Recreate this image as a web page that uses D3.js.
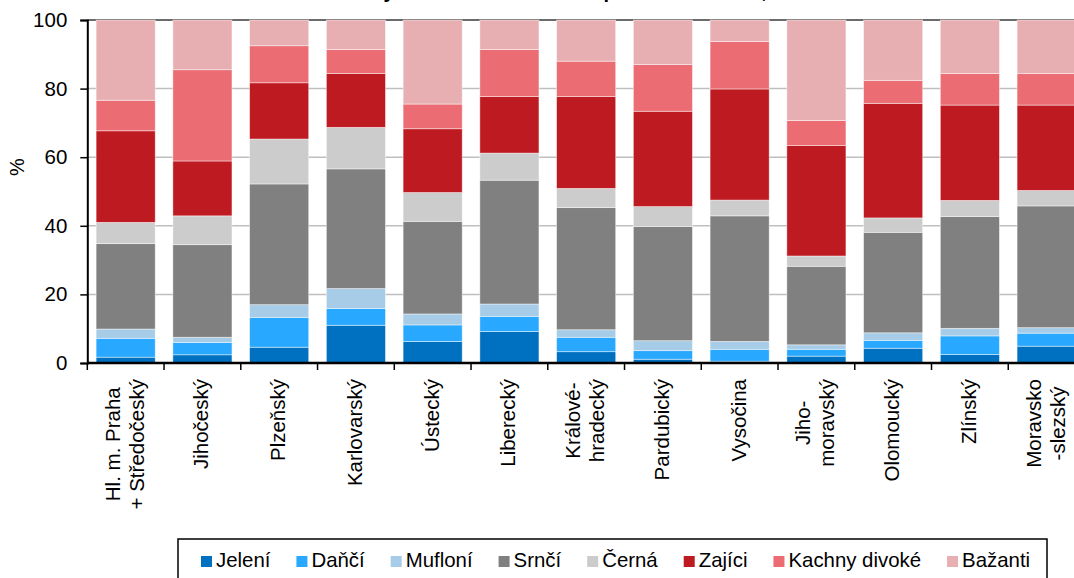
<!DOCTYPE html>
<html>
<head>
<meta charset="utf-8">
<script src="https://cdn.jsdelivr.net/npm/d3@7"></script>
<style>
  body { margin: 0; background: #fff; }
  svg { display: block; font-family: "Liberation Sans", Arial, sans-serif; }
</style>
</head>
<body>
<div class="forSvg"></div>
<script>
// chart data (shares in %, each bar sums to 100)
const categories = ["Hl. m. Praha\n+ Středočeský", "Jihočeský", "Plzeňský", "Karlovarský", "Ústecký", "Liberecký",
  "Králové-\nhradecký", "Pardubický", "Vysočina", "Jiho-\nmoravský", "Olomoucký", "Zlínský", "Moravsko\n-slezský"];
const seriesNames = ["Jelení", "Daňčí", "Mufloní", "Srnčí", "Černá", "Zajíci", "Kachny divoké", "Bažanti"];
const jeleni  = [1.7, 2.4, 4.6, 11.0, 6.3, 9.2, 3.3, 1.1, 0.5, 2.0, 4.3, 2.5, 4.9];
const danci   = [5.5, 3.6, 8.7, 4.9, 4.8, 4.4, 4.2, 2.5, 3.5, 2.0, 2.3, 5.4, 3.8];
const mufloni = [2.7, 1.5, 3.7, 5.8, 3.2, 3.6, 2.2, 2.9, 2.3, 1.3, 2.2, 2.2, 1.6];
const srnci   = [24.9, 27.0, 35.2, 34.9, 27.0, 36.1, 35.6, 33.3, 36.6, 22.9, 29.3, 32.6, 35.5];
const cerna   = [6.2, 8.4, 13.1, 12.1, 8.4, 7.9, 5.6, 5.8, 4.6, 3.0, 4.2, 4.7, 4.5];
const zajici  = [26.7, 16.0, 16.4, 15.7, 18.6, 16.5, 26.8, 27.8, 32.4, 32.2, 33.4, 27.8, 24.9];
const kachny  = [8.9, 26.6, 10.8, 7.0, 7.2, 13.7, 10.3, 13.6, 13.8, 7.3, 6.7, 9.2, 9.2];
const bazanti = [23.4, 14.5, 7.5, 8.6, 24.5, 8.6, 12.0, 13.0, 6.3, 29.3, 17.6, 15.6, 15.6];
const yTicks = [0, 20, 40, 60, 80, 100];

const colors = ["#0070C0", "#29A8FF", "#A6CCE8", "#808080", "#CCCCCC", "#BE1A21", "#EB6C72", "#E8AFB2"];

// w & h of svg
const svg_w = 1074;
const svg_h = 578;
// plot area (right edge runs past the window like in the original)
const plotL = 87.3, plotR = 1085, plotT = 20, plotB = 363;

// build rows for d3.stack from the arrays
const allSeries = [jeleni, danci, mufloni, srnci, cerna, zajici, kachny, bazanti];
const rows = categories.map((c, i) => {
  const r = { cat: c };
  seriesNames.forEach((s, j) => r[s] = allSeries[j][i]);
  return r;
});
const stacked = d3.stack().keys(seriesNames)(rows);

const xScale = d3.scaleBand()
  .domain(categories)
  .range([plotL, plotR])
  .paddingInner(0.23)
  .paddingOuter(0.115);

const yScale = d3.scaleLinear()
  .domain([0, 100])
  .range([plotB, plotT]);

const svg = d3.select(".forSvg")
  .append("svg")
  .attr("width", svg_w)
  .attr("height", svg_h);

// title - sits mostly above the visible area (only descenders show, as in the original)
svg.append("text")
  .attr("x", 329)
  .attr("y", -2.5)
  .attr("font-size", 20)
  .attr("font-weight", "bold")
  .text("Úlovky zvěře a drobné zvěře podle oblastí ČR, v %");

// gridlines
svg.append("g")
  .selectAll("line")
  .data(yTicks.filter(t => t > 0 && t < 100))
  .enter()
  .append("line")
  .attr("x1", plotL)
  .attr("x2", plotR)
  .attr("y1", d => yScale(d))
  .attr("y2", d => yScale(d))
  .attr("stroke", "#BFBFBF")
  .attr("stroke-width", 1.5);

// top border of plot area
svg.append("line")
  .attr("x1", plotL).attr("x2", plotR)
  .attr("y1", yScale(100)).attr("y2", yScale(100))
  .attr("stroke", "#3a3a3a")
  .attr("stroke-width", 1.5);

// stacked bars
svg.append("g")
  .selectAll("g")
  .data(stacked)
  .enter()
  .append("g")
  .attr("fill", (d, i) => colors[i])
  .selectAll("rect")
  .data(d => d)
  .enter()
  .append("rect")
  .attr("x", d => xScale(d.data.cat))
  .attr("y", d => yScale(d[1]))
  .attr("width", xScale.bandwidth())
  .attr("height", d => yScale(d[0]) - yScale(d[1]))
  .attr("stroke", "#ffffff")
  .attr("stroke-opacity", 0.55)
  .attr("stroke-width", 0.8);

// y axis
const yAxis = d3.axisLeft(yScale).tickValues(yTicks).tickSize(7).tickPadding(13);
const gy = svg.append("g")
  .attr("transform", "translate(" + plotL + ",0)")
  .call(yAxis);
gy.select(".domain").attr("stroke", "#000").attr("stroke-width", 2);
gy.selectAll(".tick line").attr("stroke", "#000").attr("stroke-width", 1.5);
gy.selectAll(".tick text")
  .attr("font-size", 20.5)
  .attr("font-family", "Liberation Sans, Arial, sans-serif")
  .attr("fill", "#000");

// y axis title
svg.append("text")
  .attr("transform", "translate(24,167) rotate(-90)")
  .attr("text-anchor", "middle")
  .attr("font-size", 20)
  .text("%");

// x axis line + ticks at band boundaries
svg.append("line")
  .attr("x1", plotL).attr("x2", plotR)
  .attr("y1", plotB).attr("y2", plotB)
  .attr("stroke", "#000")
  .attr("stroke-width", 2.5);

const step = xScale.step();
svg.append("g")
  .selectAll("line")
  .data(categories)
  .enter()
  .append("line")
  .attr("x1", d => xScale(d) - step * 0.115)
  .attr("x2", d => xScale(d) - step * 0.115)
  .attr("y1", plotB)
  .attr("y2", plotB + 7)
  .attr("stroke", "#000")
  .attr("stroke-width", 1.5);

// x labels, rotated, lines centered inside the block
const labelEnd = 379;
categories.forEach(c => {
  const lines = c.split("\n");
  const cx = xScale(c) + xScale.bandwidth() / 2;
  const g = svg.append("g");
  const texts = lines.map((ln, i) => g.append("text")
    .attr("font-size", 20.5)
    .attr("text-anchor", "middle")
    .text(ln));
  const maxW = d3.max(texts, t => t.node().getComputedTextLength());
  const cy = labelEnd + maxW / 2;
  texts.forEach((t, i) => {
    const bx = cx + 6 + (i - (lines.length - 1) / 2) * 24;
    t.attr("transform", "translate(" + bx + "," + cy + ") rotate(-90)");
  });
});

// legend
const legend = svg.append("g");
legend.append("rect")
  .attr("x", 178)
  .attr("y", 539)
  .attr("width", 869)
  .attr("height", 60)
  .attr("fill", "none")
  .attr("stroke", "#000")
  .attr("stroke-width", 1.5);

let lx = 201;
seriesNames.forEach((s, i) => {
  legend.append("rect")
    .attr("x", lx)
    .attr("y", 556)
    .attr("width", 11)
    .attr("height", 11)
    .attr("fill", colors[i]);
  const t = legend.append("text")
    .attr("x", lx + 15)
    .attr("y", 567)
    .attr("font-size", 20.4)
    .text(s);
  lx += 15 + t.node().getComputedTextLength() + 26;
});
</script>
</body>
</html>
